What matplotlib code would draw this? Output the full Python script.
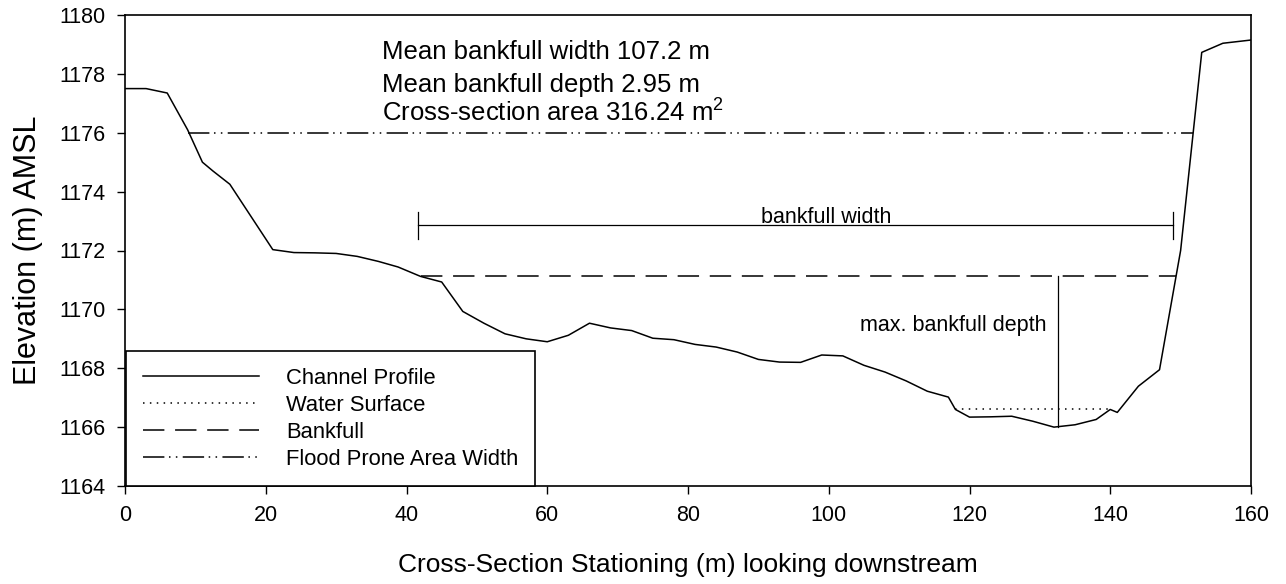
import matplotlib
matplotlib.use("Agg")
import matplotlib.pyplot as plt

plt.rcParams["font.family"] = ["Liberation Sans", "DejaVu Sans"]
plt.rcParams["mathtext.fontset"] = "custom"
plt.rcParams["mathtext.rm"] = "Liberation Sans"
plt.rcParams["mathtext.it"] = "Liberation Sans:italic"

# channel profile (station m, elevation m)
station = [0, 3, 6, 8.9, 11, 12.5, 14.9, 21, 24, 27, 30, 33, 36, 38.8, 42, 45,
           48, 51, 54, 57, 60, 63, 66, 69, 72, 75, 78, 81, 84, 87, 90, 93, 96,
           99, 102, 105, 108, 111, 114, 117, 118, 120, 123, 126, 129, 132, 135,
           138, 140, 141, 144, 147, 150, 153, 156, 160]
elevation = [1177.5, 1177.5, 1177.35, 1176.1, 1175.0, 1174.7, 1174.25, 1172.03,
             1171.93, 1171.92, 1171.9, 1171.8, 1171.63, 1171.44, 1171.12, 1170.93,
             1169.93, 1169.53, 1169.17, 1169.0, 1168.9, 1169.12, 1169.53, 1169.37,
             1169.28, 1169.02, 1168.97, 1168.81, 1168.72, 1168.55, 1168.3, 1168.21,
             1168.2, 1168.45, 1168.42, 1168.1, 1167.87, 1167.57, 1167.22, 1167.02,
             1166.6, 1166.34, 1166.35, 1166.37, 1166.2, 1166.0, 1166.08, 1166.26,
             1166.6, 1166.5, 1167.39, 1167.95, 1172.0, 1178.73, 1179.04, 1179.15]

water_x = [118, 140]
water_y = 1166.6
bankfull_x = [42, 149.3]
bankfull_y = 1171.12
flood_x = [8.95, 151.8]
flood_y = 1176.0

width_bar_x = [41.6, 148.9]
width_bar_y = 1172.85
depth_x = 132.6
depth_y = [1166.0, 1171.12]

stats_text = ["Mean bankfull width 107.2 m",
              "Mean bankfull depth 2.95 m",
              "Cross-section area 316.24 m$^2$"]

fig = plt.figure(figsize=(12.86, 5.84), dpi=100)
ax = fig.add_axes([125 / 1286, 1 - 486 / 584, 1126 / 1286, 471 / 584])

lw = 1.1
ax.plot(station, elevation, color="black", lw=lw, label="Channel Profile")
ax.plot(water_x, [water_y, water_y], color="black", lw=lw,
        dashes=(1, 3.5), label="Water Surface")
ax.plot(bankfull_x, [bankfull_y, bankfull_y], color="black", lw=lw,
        dashes=(14, 7), label="Bankfull")
ax.plot(flood_x, [flood_y, flood_y], color="black", lw=lw,
        dashes=(14, 3, 1, 3.5, 1, 3.5), label="Flood Prone Area Width")

# bankfull width bar
ax.plot(width_bar_x, [width_bar_y, width_bar_y], color="black", lw=0.9)
for xb in width_bar_x:
    ax.plot([xb, xb], [width_bar_y - 0.45, width_bar_y + 0.45], color="black", lw=0.9)
ax.text(99.65, 1172.95, "bankfull width", ha="center", va="baseline", fontsize=15.5)

# max depth
ax.plot([depth_x, depth_x], depth_y, color="black", lw=0.9)
ax.text(131.0, 1169.46, "max. bankfull depth", ha="right", va="center", fontsize=15.5)

# summary text
for txt, yb in zip(stats_text, [1178.49, 1177.39, 1176.37]):
    ax.text(36.5, yb, txt, ha="left", va="baseline", fontsize=18.5)

ax.set_xlim(0, 160)
ax.set_ylim(1164, 1180)
ax.set_xticks(range(0, 161, 20))
ax.set_yticks(range(1164, 1181, 2))
ax.tick_params(direction="out", length=6, width=1.0, labelsize=15.5, pad=8)
for sp in ax.spines.values():
    sp.set_linewidth(1.2)

ax.set_xlabel("Cross-Section Stationing (m) looking downstream", fontsize=19, labelpad=19)
ax.set_ylabel("Elevation (m) AMSL", fontsize=22, labelpad=12)

leg = ax.legend(loc="lower left", bbox_to_anchor=(0.001, 0, 0.363, 0.293),
                mode="expand", borderaxespad=0, fontsize=15.8, frameon=True,
                fancybox=False, edgecolor="black", framealpha=1,
                handlelength=5.3, handletextpad=1.25, borderpad=0.75,
                labelspacing=0.27)
leg.get_frame().set_linewidth(1.2)

fig.savefig("out.png", dpi=100)
